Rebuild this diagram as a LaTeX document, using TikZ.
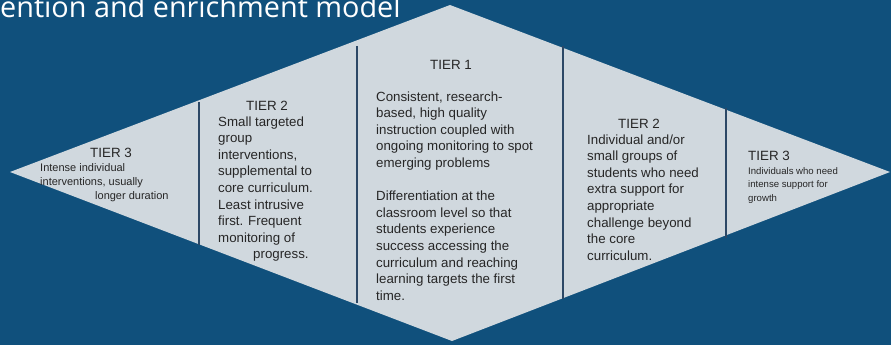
\documentclass[tikz,border=0pt]{standalone}
\usepackage{fontspec}
\setmainfont{Liberation Sans}
\newfontfamily\titlefont{Open Sans}
\definecolor{bgblue}{RGB}{16,80,124}
\definecolor{dfill}{RGB}{208,216,222}
\definecolor{txt}{RGB}{38,38,38}
\definecolor{sepcol}{RGB}{44,72,102}
\tikzset{
  sepline/.style={draw=sepcol, line width=1.4pt},
  tierhead/.style={font=\fontsize{13.4}{16}\selectfont, text=txt, inner sep=0pt, anchor=base},
  bodytext/.style={font=\fontsize{13.3}{16.6}\selectfont, text=txt, inner sep=0pt, align=left, anchor=base west},
  smalltext/.style={font=\fontsize{11}{14}\selectfont, text=txt, inner sep=0pt, align=left, anchor=base west},
  tinytext/.style={font=\fontsize{9.6}{13.5}\selectfont, text=txt, inner sep=0pt, align=left, anchor=base west}
}
\begin{document}
\begin{tikzpicture}[x=1pt,y=-1pt]
\fill[bgblue] (0,0) rectangle (891,345);
\useasboundingbox (0,0) rectangle (891,345);
% diamond
\coordinate (L) at (10,172);
\coordinate (T) at (450,5);
\coordinate (R) at (890,172);
\coordinate (B) at (452,341);
\fill[dfill] (L) -- (T) -- (R) -- (B) -- cycle;
% separators
\coordinate (s1t) at (199,102); \coordinate (s1b) at (199,245);
\coordinate (s2t) at (357,46);  \coordinate (s2b) at (357,303);
\coordinate (s3t) at (563,46);  \coordinate (s3b) at (563,299);
\coordinate (s4t) at (726,108); \coordinate (s4b) at (726,238);
\draw[sepline] (s1t) -- (s1b);
\draw[sepline] (s2t) -- (s2b);
\draw[sepline] (s3t) -- (s3b);
\draw[sepline] (s4t) -- (s4b);
% title (clipped at the top edge, as in the reference)
\begin{scope}
\clip (0,0) rectangle (891,345);
\node[anchor=base west, text=white, inner sep=0pt, font=\titlefont\fontsize{28.8}{34}\selectfont] (title) at (0,18) {ention and enrichment model};
\end{scope}
% left tier 3 (base anchor = last line)
\node[tierhead] (h3l) at (111,157) {TIER 3};
\node[smalltext] (b3l) at (40,199.5) {Intense individual\\interventions, usually\\\hspace*{55pt}longer duration};
% left tier 2
\node[tierhead] (h2l) at (267,110) {TIER 2};
\node[bodytext] (b2l) at (218,258.8) {Small targeted\\group\\interventions,\\supplemental to\\core curriculum.\\Least intrusive\\first. Frequent\\monitoring of\\\hspace*{35pt}progress.};
% tier 1
\node[tierhead] (h1) at (451,70) {TIER 1};
\node[bodytext] (b1) at (376,300.2) {Consistent, research-\\based, high quality\\instruction coupled with\\ongoing monitoring to spot\\emerging problems\\[16.6pt]Differentiation at the\\classroom level so that\\students experience\\success accessing the\\curriculum and reaching\\learning targets the first\\time.};
% right tier 2
\node[tierhead] (h2r) at (639,128) {TIER 2};
\node[bodytext] (b2r) at (587,260.2) {Individual and/or\\small groups of\\students who need\\extra support for\\appropriate\\challenge beyond\\the core\\curriculum.};
% right tier 3
\node[tierhead, anchor=base west] (h3r) at (748,160) {TIER 3};
\node[tinytext] (b3r) at (748,201) {Individuals who need\\intense support for\\growth};
\end{tikzpicture}
\end{document}
